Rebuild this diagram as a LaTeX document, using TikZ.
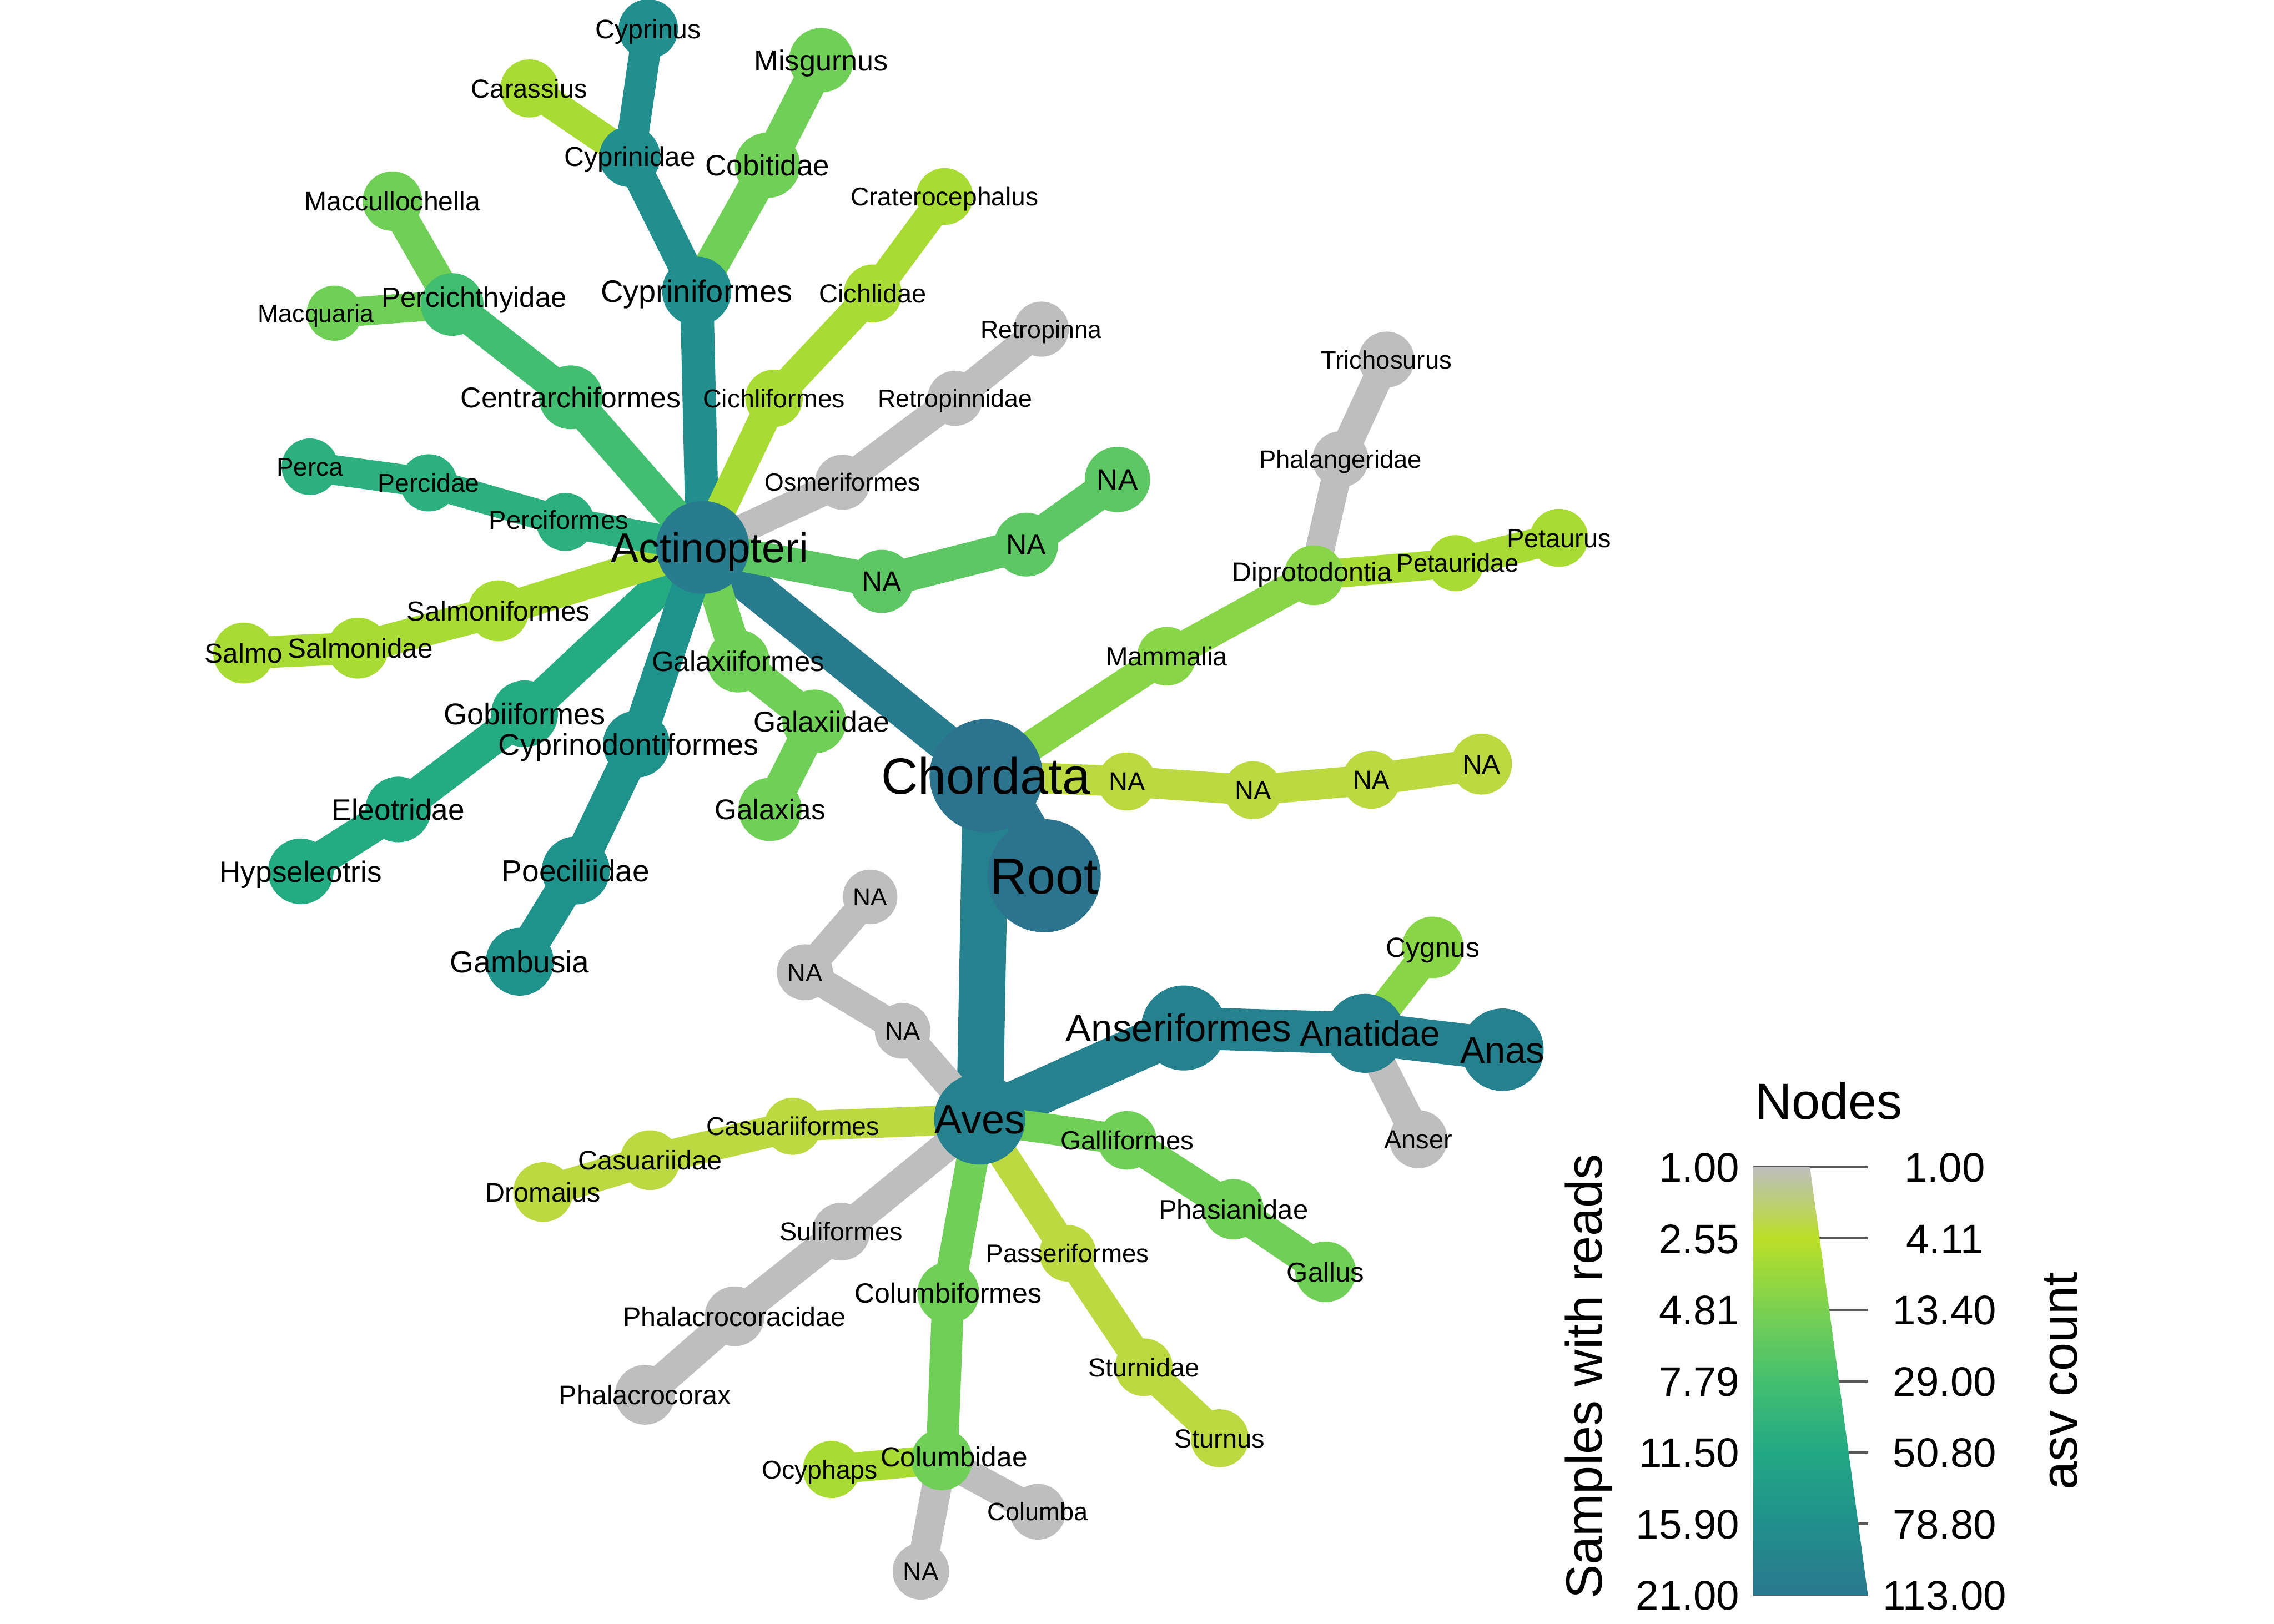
\documentclass[tikz,border=0pt]{standalone}
\usepackage{fontspec}
\setmainfont{Liberation Sans}
\usetikzlibrary{backgrounds}

\definecolor{cRoot}{HTML}{2C738E}
\definecolor{cAct}{HTML}{287C8E}
\definecolor{cAves}{HTML}{26818E}
\definecolor{cCyp}{HTML}{218F8D}
\definecolor{cPoe}{HTML}{20928C}
\definecolor{cGob}{HTML}{25AB82}
\definecolor{cPer}{HTML}{2CB07F}
\definecolor{cCen}{HTML}{42BE71}
\definecolor{cNAg}{HTML}{5DC863}
\definecolor{cGrn}{HTML}{70CF57}
\definecolor{cMam}{HTML}{88D548}
\definecolor{cYel}{HTML}{A8DB34}
\definecolor{cNAy}{HTML}{BDD942}
\definecolor{cGry}{HTML}{BEBEBE}
% legend scale
\definecolor{lg0}{HTML}{2A788E}
\definecolor{lg1}{HTML}{21908C}
\definecolor{lg2}{HTML}{22A884}
\definecolor{lg3}{HTML}{44BF70}
\definecolor{lg4}{HTML}{7AD151}
\definecolor{lg5}{HTML}{BBDF27}
\definecolor{lg6}{HTML}{BEBEBE}
\pgfdeclareverticalshading{nodescale}{100bp}{color(0bp)=(lg0); color(25bp)=(lg0);
  color(33.33bp)=(lg1); color(41.67bp)=(lg2); color(50bp)=(lg3); color(58.33bp)=(lg4);
  color(66.67bp)=(lg5); color(75bp)=(lg6); color(100bp)=(lg6)}

\begin{document}
\begin{tikzpicture}[
  x=0.01cm, y=-0.01cm,
  taxon/.style n args={3}{circle, inner sep=0pt, minimum size={#1*0.569pt},
                          label={[txt=#1,#3]center:#2}},
  txt/.style={/utils/exec={\pgfmathsetmacro\txsize{0.256*#1}%
                           \pgfmathsetmacro\txcap{0.716*0.256*#1}},
              font=\fontsize{\txsize pt}{\txsize pt}\selectfont,
              inner sep=0pt, text height=\txcap pt, text depth=0pt},
  edge/.style={line width={#1*0.2845pt}},
  tick/.style={draw=black!65, line width=0.45pt},
  legnum/.style={font=\fontsize{8.1pt}{8.1pt}\selectfont, inner sep=0pt},
  legtitle/.style={font=\fontsize{10pt}{10pt}\selectfont, inner sep=0pt, anchor=base}
]
\useasboundingbox (0,0) rectangle (1568,1120);

% ---------- Root / Chordata ----------
\node[taxon={39}{Root}{}, fill=cRoot] (root) at (720,604) {};
\node[taxon={39}{Chordata}{}, fill=cRoot] (chordata) at (680,535) {};
\node[taxon={20}{NA}{}, fill=cNAy] (nac1) at (777,539) {};
\node[taxon={20}{NA}{}, fill=cNAy] (nac2) at (864,545) {};
\node[taxon={20}{NA}{}, fill=cNAy] (nac3) at (945.5,537.8) {};
\node[taxon={21}{NA}{}, fill=cNAy] (nac4) at (1021.5,527) {};

% ---------- Actinopteri ----------
\node[taxon={32}{Actinopteri}{xshift=1.4pt}, fill=cAct] (actino) at (484.5,377.5) {};
\node[taxon={23.8}{Cypriniformes}{}, fill=cCyp] (cypfo) at (480.4,200.8) {};
\node[taxon={21}{Cyprinidae}{}, fill=cCyp] (cypid) at (434.3,108) {};
\node[taxon={20.5}{Cyprinus}{}, fill=cCyp] (cyprinus) at (447,20) {};
\node[taxon={20}{Carassius}{}, fill=cYel] (carassius) at (365,61) {};
\node[taxon={22.5}{Cobitidae}{}, fill=cGrn] (cobit) at (529.2,114) {};
\node[taxon={22.2}{Misgurnus}{}, fill=cGrn] (misgurnus) at (566.3,41.5) {};
\node[taxon={19.8}{Cichliformes}{}, fill=cYel] (cichfo) at (533.7,274.7) {};
\node[taxon={20}{Cichlidae}{}, fill=cYel] (cichid) at (601.8,202.4) {};
\node[taxon={19.6}{Craterocephalus}{}, fill=cYel] (crater) at (651.3,135.5) {};
\node[taxon={19}{Osmeriformes}{}, fill=cGry] (osmer) at (581,332.6) {};
\node[taxon={19}{Retropinnidae}{}, fill=cGry] (retrid) at (658.6,274.7) {};
\node[taxon={19}{Retropinna}{}, fill=cGry] (retro) at (718,227) {};
\node[taxon={21.8}{NA}{}, fill=cNAg] (naa1) at (608,401) {};
\node[taxon={22}{NA}{}, fill=cNAg] (naa2) at (707.6,375.6) {};
\node[taxon={22.5}{NA}{}, fill=cNAg] (naa3) at (770.5,330.7) {};
\node[taxon={21.6}{Galaxiiformes}{}, fill=cGrn] (galfo) at (509,456) {};
\node[taxon={22}{Galaxiidae}{xshift=1.4pt}, fill=cGrn] (galid) at (561.5,497.6) {};
\node[taxon={21.8}{Galaxias}{}, fill=cGrn] (galaxias) at (531,558.3) {};
\node[taxon={23}{Gobiiformes}{}, fill=cGob] (gobfo) at (361.7,492.3) {};
\node[taxon={22.6}{Eleotridae}{}, fill=cGob] (eleot) at (274.6,558.3) {};
\node[taxon={22.6}{Hypseleotris}{}, fill=cGob] (hypse) at (207.4,601) {};
\node[taxon={23}{Cyprinodontiformes}{xshift=-1.5pt}, fill=cPoe] (cydfo) at (438.8,513.3) {};
\node[taxon={23.4}{Poeciliidae}{}, fill=cPoe] (poec) at (397,600.4) {};
\node[taxon={23.4}{Gambusia}{}, fill=cPoe] (gambusia) at (358.4,663.3) {};
\node[taxon={21}{Salmoniformes}{}, fill=cYel] (salfo) at (343.6,421.3) {};
\node[taxon={21}{Salmonidae}{xshift=0.5pt}, fill=cYel] (salid) at (246.8,447) {};
\node[taxon={21}{Salmo}{}, fill=cYel] (salmo) at (168,450.4) {};
\node[taxon={20}{Perciformes}{xshift=-1.3pt, yshift=0.45pt}, fill=cPer] (perfo) at (389.8,360) {};
\node[taxon={19.7}{Percidae}{}, fill=cPer] (perid) at (295.6,333) {};
\node[taxon={19.5}{Perca}{}, fill=cPer] (perca) at (213.7,321.9) {};
\node[taxon={22}{Centrarchiformes}{}, fill=cCen] (cenfo) at (393.6,274) {};
\node[taxon={21.6}{Percichthyidae}{xshift=4.3pt, yshift=1.4pt}, fill=cCen] (pcthy) at (311.8,210) {};
\node[taxon={20.5}{Maccullochella}{}, fill=cGrn] (maccul) at (270.6,138.7) {};
\node[taxon={19}{Macquaria}{xshift=-3.6pt}, fill=cGrn] (macq) at (230.5,216) {};

% ---------- Mammalia ----------
\node[taxon={20.2}{Mammalia}{}, fill=cMam] (mammalia) at (804.5,452.6) {};
\node[taxon={20.6}{Diprotodontia}{xshift=-0.35pt, yshift=0.7pt}, fill=cMam] (dipro) at (906,396.8) {};
\node[taxon={19.3}{Phalangeridae}{}, fill=cGry] (phalang) at (924.3,316.8) {};
\node[taxon={19.3}{Trichosurus}{}, fill=cGry] (tricho) at (956,248) {};
\node[taxon={19.3}{Petauridae}{xshift=0.4pt}, fill=cYel] (petid) at (1003.7,388.4) {};
\node[taxon={20}{Petaurus}{}, fill=cYel] (petaurus) at (1075,371) {};

% ---------- Aves ----------
\node[taxon={31.4}{Aves}{}, fill=cAves] (aves) at (675.5,771.8) {};
\node[taxon={19.2}{NA}{}, fill=cGry] (nab1) at (622.4,711) {};
\node[taxon={19.3}{NA}{}, fill=cGry] (nab2) at (555,670.6) {};
\node[taxon={18.8}{NA}{}, fill=cGry] (nab3) at (600,618.6) {};
\node[taxon={29.3}{Anseriformes}{xshift=-1pt}, fill=cAves] (ansfo) at (816.2,709) {};
\node[taxon={27.2}{Anatidae}{xshift=1pt}, fill=cAves] (anatid) at (941.2,712.7) {};
\node[taxon={28.4}{Anas}{}, fill=cAves] (anas) at (1036,724) {};
\node[taxon={21.2}{Cygnus}{}, fill=cMam] (cygnus) at (988,653.4) {};
\node[taxon={20}{Anser}{}, fill=cGry] (anser) at (978,785.7) {};
\node[taxon={19.7}{Casuariiformes}{}, fill=cNAy] (casfo) at (546.6,776.8) {};
\node[taxon={20.6}{Casuariidae}{}, fill=cNAy] (casid) at (448.2,800.2) {};
\node[taxon={20.6}{Dromaius}{}, fill=cNAy] (dromaius) at (374.5,822.2) {};
\node[taxon={20.2}{Galliformes}{}, fill=cGrn] (galli) at (777.2,786.5) {};
\node[taxon={20.8}{Phasianidae}{}, fill=cGrn] (phasian) at (850.5,834) {};
\node[taxon={20.9}{Gallus}{}, fill=cGrn] (gallus) at (914,877.2) {};
\node[taxon={19.9}{Suliformes}{}, fill=cGry] (sulfo) at (580,849.5) {};
\node[taxon={20.6}{Phalacrocoracidae}{}, fill=cGry] (phalid) at (506.5,907.9) {};
\node[taxon={20.6}{Phalacrocorax}{}, fill=cGry] (phalax) at (444.7,962) {};
\node[taxon={21.3}{Columbiformes}{}, fill=cGrn] (colfo) at (653.9,891.8) {};
\node[taxon={21.1}{Columbidae}{xshift=2.4pt, yshift=0.6pt}, fill=cGrn] (colid) at (649.4,1006.7) {};
\node[taxon={19.7}{Ocyphaps}{xshift=-2.3pt}, fill=cYel] (ocyph) at (573.3,1013.5) {};
\node[taxon={19.2}{Columba}{}, fill=cGry] (columba) at (715.6,1042.7) {};
\node[taxon={19.5}{NA}{}, fill=cGry] (nacol) at (635,1083.8) {};
\node[taxon={19.5}{Passeriformes}{}, fill=cNAy] (passfo) at (736.2,864.4) {};
\node[taxon={19.9}{Sturnidae}{}, fill=cNAy] (sturid) at (788.7,943) {};
\node[taxon={20}{Sturnus}{}, fill=cNAy] (sturnus) at (841,992) {};

% ---------- edges ----------
\begin{scope}[on background layer]
\draw[edge=40, cRoot] (root.center) -- (chordata.center);
\draw[edge=26, cAct] (chordata.center) -- (actino.center);
\draw[edge=32, cAves] (chordata.center) -- (aves.center);
\draw[edge=21, cMam] (chordata.center) -- (mammalia.center);
\draw[edge=21, cNAy] (chordata.center) -- (nac1.center) -- (nac2.center) -- (nac3.center);
\draw[edge=22, cNAy] (nac3.center) -- (nac4.center);

\draw[edge=23, cCyp] (actino.center) -- (cypfo.center);
\draw[edge=22, cCyp] (cypfo.center) -- (cypid.center);
\draw[edge=21.5, cCyp] (cypid.center) -- (cyprinus.center);
\draw[edge=21, cYel] (cypid.center) -- (carassius.center);
\draw[edge=23.5, cGrn] (cypfo.center) -- (cobit.center);
\draw[edge=23, cGrn] (cobit.center) -- (misgurnus.center);
\draw[edge=21, cYel] (actino.center) -- (cichfo.center) -- (cichid.center);
\draw[edge=20.5, cYel] (cichid.center) -- (crater.center);
\draw[edge=20, cGry] (actino.center) -- (osmer.center) -- (retrid.center) -- (retro.center);
\draw[edge=23, cNAg] (actino.center) -- (naa1.center) -- (naa2.center);
\draw[edge=23.5, cNAg] (naa2.center) -- (naa3.center);
\draw[edge=22.5, cGrn] (actino.center) -- (galfo.center);
\draw[edge=23, cGrn] (galfo.center) -- (galid.center) -- (galaxias.center);
\draw[edge=24, cGob] (actino.center) -- (gobfo.center);
\draw[edge=23.5, cGob] (gobfo.center) -- (eleot.center) -- (hypse.center);
\draw[edge=24, cPoe] (actino.center) -- (cydfo.center);
\draw[edge=24.5, cPoe] (cydfo.center) -- (poec.center) -- (gambusia.center);
\draw[edge=22, cYel] (actino.center) -- (salfo.center) -- (salid.center) -- (salmo.center);
\draw[edge=21, cPer] (actino.center) -- (perfo.center);
\draw[edge=20.5, cPer] (perfo.center) -- (perid.center) -- (perca.center);
\draw[edge=23, cCen] (actino.center) -- (cenfo.center);
\draw[edge=22.5, cCen] (cenfo.center) -- (pcthy.center);
\draw[edge=21.5, cGrn] (pcthy.center) -- (maccul.center);
\draw[edge=20, cGrn] (pcthy.center) -- (macq.center);

\draw[edge=21.5, cMam] (mammalia.center) -- (dipro.center);
\draw[edge=20, cGry] (dipro.center) -- (phalang.center) -- (tricho.center);
\draw[edge=20, cYel] (dipro.center) -- (petid.center);
\draw[edge=21, cYel] (petid.center) -- (petaurus.center);

\draw[edge=20, cGry] (aves.center) -- (nab1.center) -- (nab2.center);
\draw[edge=19.5, cGry] (nab2.center) -- (nab3.center);
\draw[edge=31, cAves] (aves.center) -- (ansfo.center);
\draw[edge=29, cAves] (ansfo.center) -- (anatid.center);
\draw[edge=29.5, cAves] (anatid.center) -- (anas.center);
\draw[edge=22, cMam] (anatid.center) -- (cygnus.center);
\draw[edge=21, cGry] (anatid.center) -- (anser.center);
\draw[edge=20.5, cNAy] (aves.center) -- (casfo.center);
\draw[edge=21.5, cNAy] (casfo.center) -- (casid.center) -- (dromaius.center);
\draw[edge=21, cGrn] (aves.center) -- (galli.center);
\draw[edge=22, cGrn] (galli.center) -- (phasian.center) -- (gallus.center);
\draw[edge=21, cGry] (aves.center) -- (sulfo.center);
\draw[edge=21.5, cGry] (sulfo.center) -- (phalid.center) -- (phalax.center);
\draw[edge=22, cGrn] (aves.center) -- (colfo.center) -- (colid.center);
\draw[edge=20.5, cYel] (colid.center) -- (ocyph.center);
\draw[edge=20, cGry] (colid.center) -- (columba.center);
\draw[edge=20.5, cGry] (colid.center) -- (nacol.center);
\draw[edge=20.5, cNAy] (aves.center) -- (passfo.center);
\draw[edge=21, cNAy] (passfo.center) -- (sturid.center) -- (sturnus.center);
\end{scope}

% ---------- legend ----------
\node[legtitle] (legnodes) at (1261,772) {Nodes};
\draw[tick] (1209,805) -- (1288,805);
\draw[tick] (1209,854.2) -- (1288,854.2);
\draw[tick] (1209,903.4) -- (1288,903.4);
\draw[tick] (1209,952.6) -- (1288,952.6);
\draw[tick] (1209,1001.8) -- (1288,1001.8);
\draw[tick] (1209,1051) -- (1288,1051);
\draw[tick] (1209,1100.2) -- (1288,1100.2);
\shade[shading=nodescale] (1209,805) -- (1248,805) -- (1288,1100.2) -- (1209,1100.2) -- cycle;

\node[legnum, anchor=base east] (s1) at (1200,815.3) {1.00};
\node[legnum, anchor=base east] (s2) at (1200,864.5) {2.55};
\node[legnum, anchor=base east] (s3) at (1200,913.7) {4.81};
\node[legnum, anchor=base east] (s4) at (1200,962.9) {7.79};
\node[legnum, anchor=base east] (s5) at (1200,1012.1) {11.50};
\node[legnum, anchor=base east] (s6) at (1200,1061.3) {15.90};
\node[legnum, anchor=base east] (s7) at (1200,1110.5) {21.00};

\node[legnum, anchor=base] (a1) at (1341,815.3) {1.00};
\node[legnum, anchor=base] (a2) at (1341,864.5) {4.11};
\node[legnum, anchor=base] (a3) at (1341,913.7) {13.40};
\node[legnum, anchor=base] (a4) at (1341,962.9) {29.00};
\node[legnum, anchor=base] (a5) at (1341,1012.1) {50.80};
\node[legnum, anchor=base] (a6) at (1341,1061.3) {78.80};
\node[legnum, anchor=base] (a7) at (1341,1110.5) {113.00};

\node[legtitle, rotate=90] (legsamples) at (1104.6,949.4) {Samples with reads};
\node[legtitle, rotate=90] (legasv) at (1432.4,952.5) {asv count};

\end{tikzpicture}
\end{document}
